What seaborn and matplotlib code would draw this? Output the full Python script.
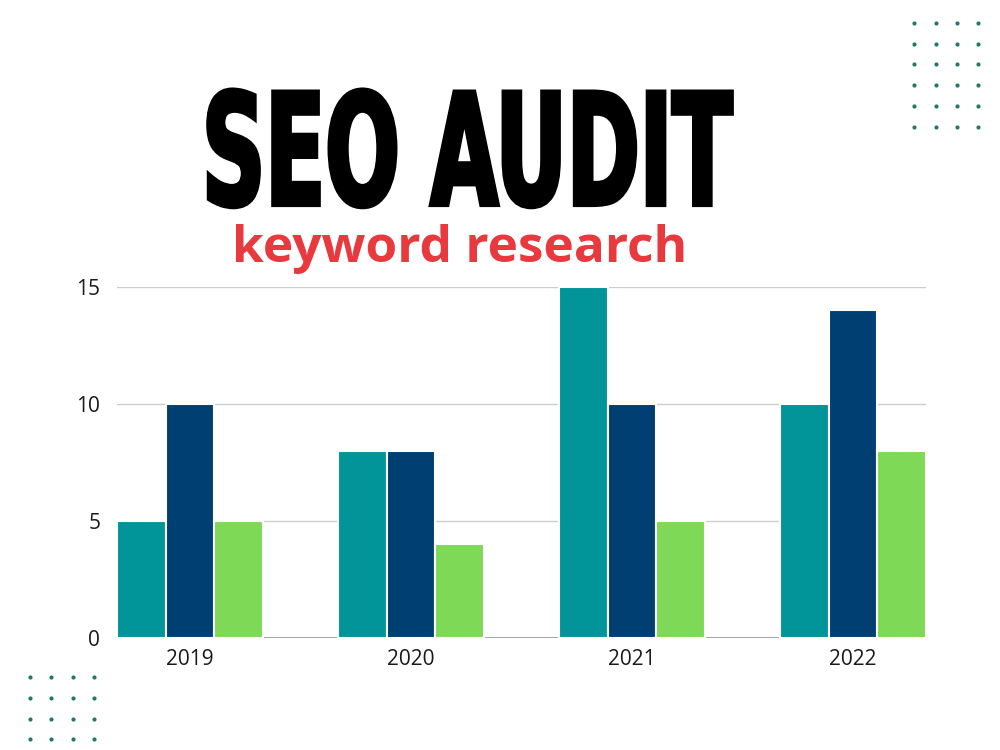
import numpy as np
import pandas as pd
import seaborn as sns
import matplotlib.pyplot as plt
from matplotlib.patheffects import AbstractPathEffect
from matplotlib.transforms import Affine2D

# chart data
years = ['2019', '2020', '2021', '2022']
series_a = [5, 8, 15, 10]
series_b = [10, 8, 10, 14]
series_c = [5, 4, 5, 8]
series_names = ['A', 'B', 'C']
colors = ['#01959a', '#003f72', '#7ed957']
yticks = [0, 5, 10, 15]

df = pd.DataFrame({
    'year': years * 3,
    'value': series_a + series_b + series_c,
    'series': [s for s in series_names for _ in years],
})

sns.set_style('white')
plt.rcParams['font.family'] = ['Open Sans', 'DejaVu Sans']

fig = plt.figure(figsize=(10, 7.5), dpi=100)
fig.patch.set_facecolor('white')

ax = fig.add_axes([0.117, 0.1493, 0.809, 0.468])
sns.barplot(data=df, x='year', y='value', hue='series', palette=colors, saturation=1,
            width=0.66, edgecolor='white', linewidth=1.5, legend=False, ax=ax, zorder=3)
ax.set_xlim(-0.33, 3.33)
ax.set_ylim(0, 15)
ax.set_yticks(yticks)
ax.yaxis.grid(True, color='#cccccc', linewidth=1, zorder=0)
ax.axhline(0, color='#999999', linewidth=1.2, zorder=1)
for s in ax.spines.values():
    s.set_visible(False)
ax.tick_params(axis='both', length=0, labelsize=15, colors='#1a1a1a')
ax.tick_params(axis='y', pad=12)
ax.tick_params(axis='x', pad=8)
ax.set_xlabel('')
ax.set_ylabel('')


# stretch the heavy title so it looks like a tall condensed display face
class Squash(AbstractPathEffect):
    def __init__(self, sx, sy, cx, cy, lw):
        super().__init__()
        self.sx, self.sy, self.cx, self.cy, self.lw = sx, sy, cx, cy, lw

    def draw_path(self, renderer, gc, tpath, affine, rgbFace=None):
        tr = affine + Affine2D().translate(-self.cx, -self.cy).scale(self.sx, self.sy).translate(self.cx, self.cy)
        gc0 = renderer.new_gc()
        gc0.copy_properties(gc)
        gc0.set_linewidth(self.lw)
        gc0.set_foreground(rgbFace)
        gc0.set_joinstyle('miter')
        renderer.draw_path(gc0, tpath, tr, rgbFace)
        gc0.restore()


tx, ty = 0.4675, (750 - 205) / 750
stretch_y = 2.5
title = fig.text(tx, ty, 'SEO AUDIT', ha='center', va='baseline',
                 fontsize=112 / stretch_y, fontweight='heavy', color='black', family='DejaVu Sans')
fig.canvas.draw()
bb = title.get_window_extent()
title.set_path_effects([Squash(531 / bb.width, stretch_y, tx * fig.bbox.width, ty * fig.bbox.height, 3)])

fig.text(0.46, (750 - 262) / 750, 'keyword research', ha='center', va='baseline',
         fontsize=37, fontweight='bold', color='#e8393e')

# decorative dot grids
deco = fig.add_axes([0, 0, 1, 1], zorder=-1)
deco.set_xlim(0, 1000)
deco.set_ylim(750, 0)
deco.axis('off')
gx, gy = np.meshgrid([914, 936, 957, 978], [23, 44, 64, 85, 106, 127])
deco.scatter(gx.ravel(), gy.ravel(), s=9, color='#1f7a6c', linewidths=0)
gx, gy = np.meshgrid([30, 51, 73, 94], [677, 698, 719, 739])
deco.scatter(gx.ravel(), gy.ravel(), s=9, color='#1f7a6c', linewidths=0)

fig.savefig('out.png', dpi=100, facecolor='white')
